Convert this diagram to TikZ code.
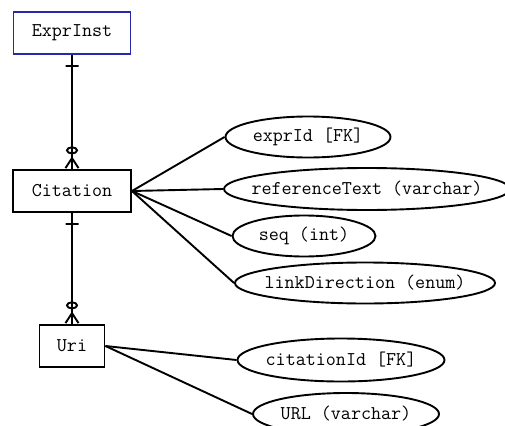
\documentclass[tikz,border=0pt]{standalone}
\usepackage{tikz}
\usetikzlibrary{arrows.meta,shapes.geometric}
\definecolor{entityblue}{RGB}{40,40,175}

\begin{document}
\begin{tikzpicture}[
    x = 1pt, y = -1pt, % pixel grid, y downwards
    line width = 1.9pt, % line style
    font = \ttfamily\fontsize{19.5}{22}\selectfont
    ]

    \tikzset{
    entity/.style = {draw, rectangle, minimum width = #1, minimum height = 42pt, inner sep = 0pt},
    attribute/.style = {draw, ellipse, minimum width = #1, minimum height = 41pt, inner sep = 0pt},
    tick/.style = {draw, minimum width = 13pt, minimum height = 0pt, inner sep = 0pt, outer sep = 0pt},
    zero many/.style = {postaction = {draw, -{Circle[open, length = 8pt, width = 12pt, sep = 2pt] Straight Barb[reversed, length = 10pt, width = 13pt]}}}
    }

    \path[use as bounding box, clip] (0,0) rectangle (505,425);

    % entities
    \node[entity = 117pt, draw = entityblue] (exprinst) at (72,33) {ExprInst};
    \node[entity = 118pt] (citation) at (72,191) {Citation};
    \node[entity = 65pt] (uri) at (72,346) {Uri};

    % attributes
    \node[attribute = 165pt] (exprid) at (308,137) {\makebox[0pt]{exprId [FK]}};
    \node[attribute = 286pt, minimum height = 42pt] (reftext) at (367,189) {\makebox[0pt]{referenceText (varchar)}};
    \node[attribute = 143pt] (seq) at (304,236) {\makebox[0pt]{seq (int)}};
    \node[attribute = 260pt] (linkdir) at (365,283) {\makebox[0pt]{linkDirection (enum)}};
    \node[attribute = 207pt, minimum height = 43pt] (citeid) at (341,360) {\makebox[0pt]{citationId [FK]}};
    \node[attribute = 186pt, minimum height = 42pt] (url) at (346,414) {\makebox[0pt]{URL (varchar)}};

    % relationships
    \path[draw, zero many] (exprinst.south) -- node[tick, pos = 0.1]{} (citation.north);
    \path[draw, zero many] (citation.south) -- node[tick, pos = 0.1]{} (uri.north);

    \path (citation.east) edge (exprid.west);
    \path (citation.east) edge (reftext.west);
    \path (citation.east) edge (seq.west);
    \path (citation.east) edge (linkdir.west);
    \path (uri.east) edge (citeid.west);
    \path (uri.east) edge (url.west);
\end{tikzpicture}
\end{document}
